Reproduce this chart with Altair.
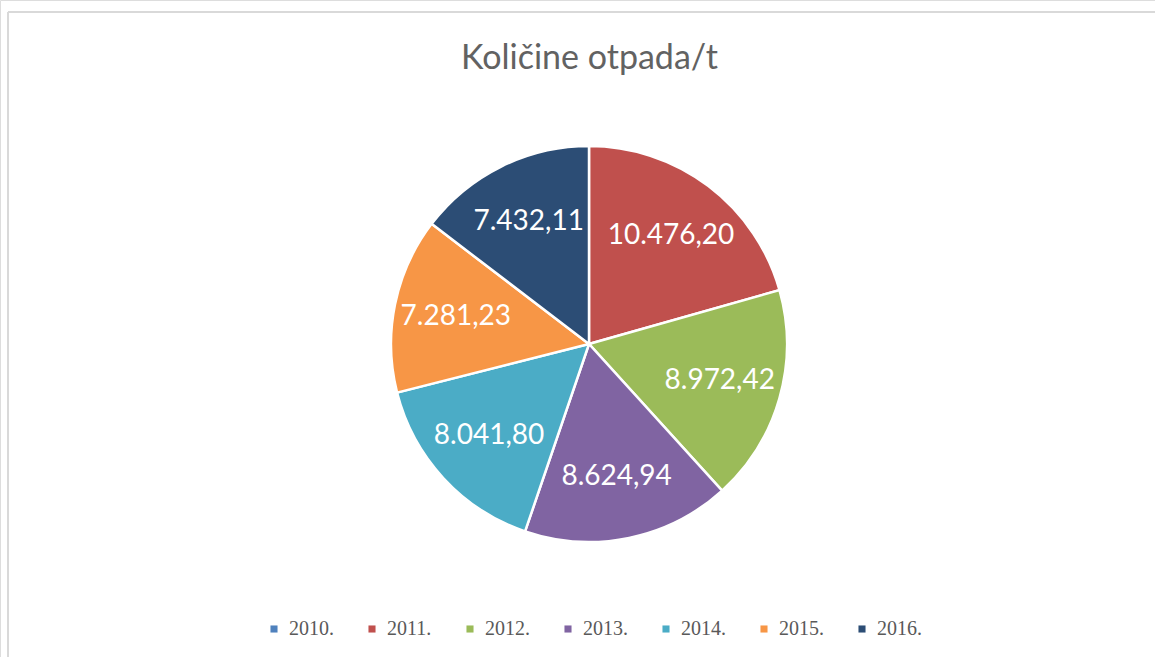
import altair as alt
import pandas as pd

years = ["2010.", "2011.", "2012.", "2013.", "2014.", "2015.", "2016."]
values = [0.0, 10476.20, 8972.42, 8624.94, 8041.80, 7281.23, 7432.11]
labels = ["", "10.476,20", "8.972,42", "8.624,94", "8.041,80", "7.281,23", "7.432,11"]
colors = ["#4F81BD", "#C0504D", "#9BBB59", "#8064A2", "#4BACC6", "#F79646", "#2C4D75"]

df = pd.DataFrame({"year": years, "value": values, "label": labels, "idx": list(range(len(years)))})

base = alt.Chart(df).encode(
    theta=alt.Theta("value:Q", stack=True),
    order=alt.Order("idx:Q", sort="ascending"),
    x=alt.value(589),
    y=alt.value(344),
)

pie = base.mark_arc(outerRadius=198, stroke="white", strokeWidth=2.5).encode(
    color=alt.Color(
        "year:N",
        scale=alt.Scale(domain=years, range=colors),
        legend=alt.Legend(
            title=None,
            orient="none",
            legendX=264,
            legendY=619,
            direction="horizontal",
            columns=7,
            symbolType="square",
            symbolSize=50,
            symbolStrokeWidth=0,
            labelFont="Liberation Serif",
            labelFontSize=20,
            labelColor="#595959",
            labelOffset=5,
            columnPadding=28,
        ),
    )
)

text = base.mark_text(radius=136, font="Lato", fontSize=28, color="white").encode(
    text="label:N"
)

border = alt.Chart(df).mark_rule(color="#d9d9d9", strokeWidth=2).encode(
    x=alt.value(8), y=alt.value(12), y2=alt.value(657)
)
border2 = alt.Chart(df).mark_rule(color="#d9d9d9", strokeWidth=2).encode(
    x=alt.value(8), x2=alt.value(1155), y=alt.value(12)
)

chart = alt.layer(border, border2, pie, text).properties(
    width=1155,
    height=657,
    padding=0,
    autosize=alt.AutoSizeParams(type="none"),
    title=alt.TitleParams(
        "Količine otpada/t",
        font="Lato",
        fontSize=34,
        fontWeight="normal",
        color="#626262",
        anchor="middle",
        dx=12,
        dy=80,
    ),
).configure_view(stroke=None).configure(background="white")

chart.save("out.html", embed_options={"renderer": "svg", "actions": False})
